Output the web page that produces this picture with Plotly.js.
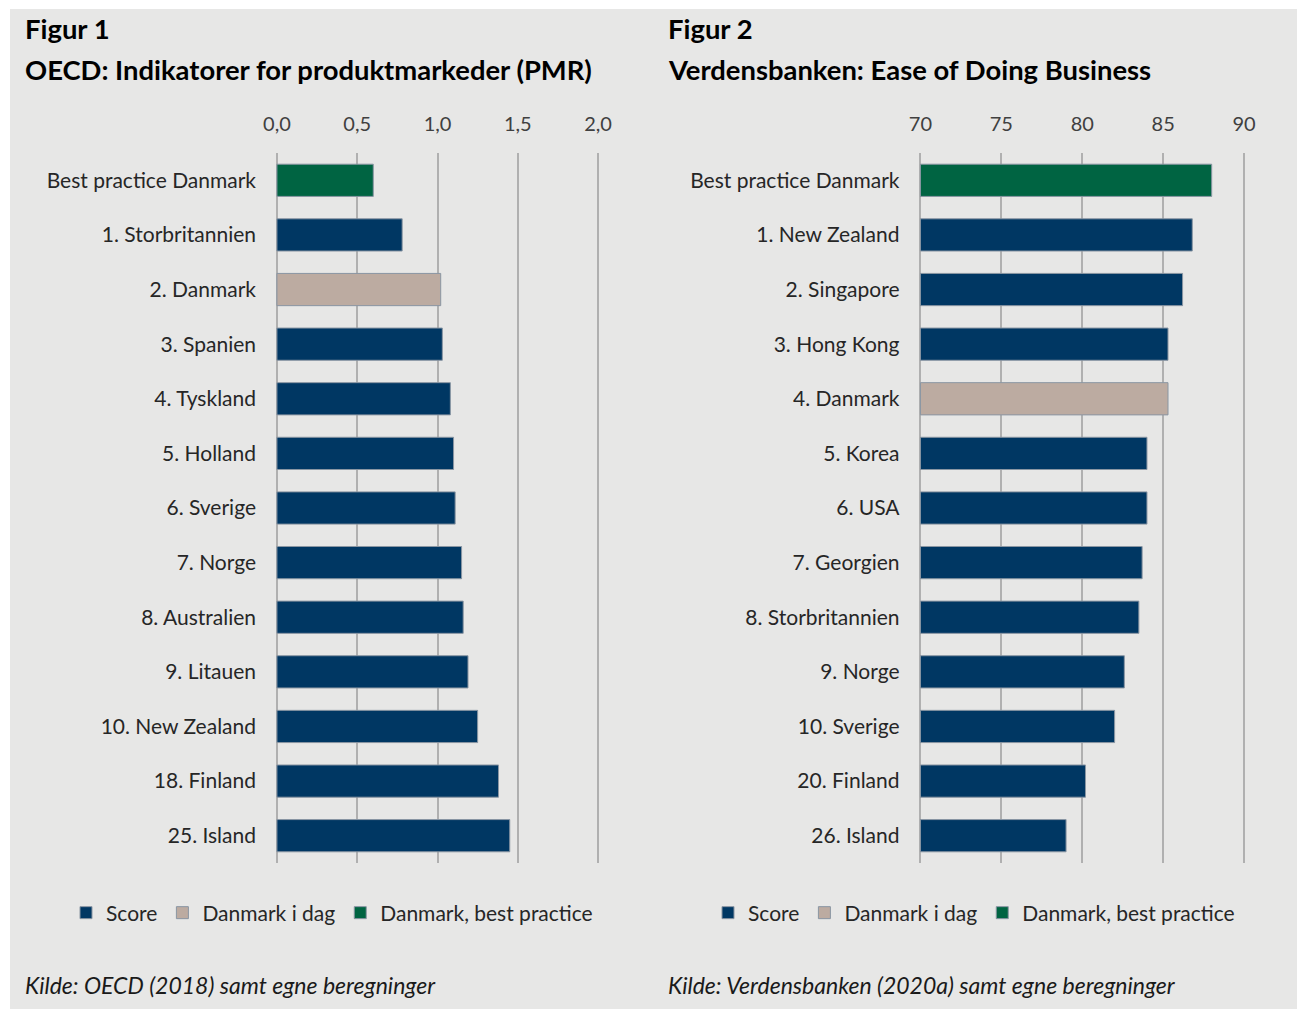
<!DOCTYPE html>
<html>
<head>
<meta charset="utf-8">
<script src="https://cdn.plot.ly/plotly-3.0.1.min.js"></script>
<style>
  body { margin: 0; background: #ffffff; }
  #chart { width: 1300px; height: 1010px; }
</style>
</head>
<body>
<div id="chart"></div>
<script>
// Figur 1: OECD PMR
const pmrLabels = ['Best practice Danmark', '1. Storbritannien', '2. Danmark', '3. Spanien', '4. Tyskland',
  '5. Holland', '6. Sverige', '7. Norge', '8. Australien', '9. Litauen', '10. New Zealand',
  '18. Finland', '25. Island'];
const pmrValues = [0.60, 0.78, 1.02, 1.03, 1.08, 1.10, 1.11, 1.15, 1.16, 1.19, 1.25, 1.38, 1.45];
const pmrGroups = ['best', 'score', 'today', 'score', 'score', 'score', 'score', 'score', 'score',
  'score', 'score', 'score', 'score'];

// Figur 2: Ease of Doing Business
const dbLabels = ['Best practice Danmark', '1. New Zealand', '2. Singapore', '3. Hong Kong', '4. Danmark',
  '5. Korea', '6. USA', '7. Georgien', '8. Storbritannien', '9. Norge', '10. Sverige',
  '20. Finland', '26. Island'];
const dbValues = [88.0, 86.8, 86.2, 85.3, 85.3, 84.0, 84.0, 83.7, 83.5, 82.6, 82.0, 80.2, 79.0];
const dbGroups = ['best', 'score', 'score', 'score', 'today', 'score', 'score', 'score', 'score',
  'score', 'score', 'score', 'score'];

const pmrTicks = [0, 0.5, 1.0, 1.5, 2.0];
const dbTicks = [70, 75, 80, 85, 90];

const groupNames = { score: 'Score', today: 'Danmark i dag', best: 'Danmark, best practice' };
const groupColors = { score: '#003763', today: '#bcaba1', best: '#006442' };
const groupOrder = ['score', 'today', 'best'];

const W = 1300, H = 1010;
const px = x => x / W;
const py = y => 1 - y / H;
const FONT = 'Lato, "Open Sans", sans-serif';

function makeTraces(labels, values, groups, xa, ya, legendId, base) {
  return groupOrder.map(g => {
    const idx = groups.map((v, i) => v === g ? i : -1).filter(i => i >= 0);
    return {
      type: 'bar',
      orientation: 'h',
      name: groupNames[g],
      x: idx.map(i => values[i] - base),
      y: idx.map(i => labels[i]),
      base: base,
      xaxis: xa,
      yaxis: ya,
      legend: legendId,
      width: 0.59,
      marker: { color: groupColors[g], line: { color: '#8a96a3', width: 1 } },
      hoverinfo: 'skip'
    };
  });
}

const traces = [
  ...makeTraces(pmrLabels, pmrValues, pmrGroups, 'x', 'y', 'legend', 0),
  ...makeTraces(dbLabels, dbValues, dbGroups, 'x2', 'y2', 'legend2', 70)
];

const xCommon = {
  side: 'top',
  showgrid: true,
  gridcolor: '#b0b0b0',
  gridwidth: 2,
  zeroline: false,
  showline: false,
  ticks: '',
  ticklabelstandoff: 17,
  tickfont: { family: FONT, size: 20, color: '#404040' },
  fixedrange: true
};
const yCommon = {
  type: 'category',
  autorange: false,
  range: [12.5, -0.5],
  showgrid: false,
  zeroline: false,
  showline: false,
  ticks: '',
  ticklabelstandoff: 18,
  tickfont: { family: FONT, size: 21, color: '#262626' },
  domain: [py(863), py(153)],
  fixedrange: true
};

const legendCommon = {
  orientation: 'h',
  xanchor: 'left',
  yanchor: 'middle',
  y: py(913),
  bgcolor: 'rgba(0,0,0,0)',
  font: { family: FONT, size: 21, color: '#262626' },
  traceorder: 'normal',
  itemclick: false,
  itemdoubleclick: false
};

const titleFont = { family: FONT, size: 27.4, color: '#000000', weight: 'bold' };
const noteFont = { family: FONT, size: 23, color: '#1a1a1a', style: 'italic' };

function textNote(x, y, text, font) {
  return { xref: 'paper', yref: 'paper', x: px(x), y: py(y), xanchor: 'left', yanchor: 'middle',
    text: text, showarrow: false, font: font };
}

// small padding so the edge gridlines (0 / 2,0 and 70 / 90) are drawn
const padL = 0.012, padR = 0.12;

const layout = {
  width: W,
  height: H,
  margin: { l: 0, r: 0, t: 0, b: 0 },
  paper_bgcolor: '#ffffff',
  plot_bgcolor: 'rgba(0,0,0,0)',
  barmode: 'overlay',
  separators: ',.',
  showlegend: true,
  xaxis: Object.assign({}, xCommon, {
    domain: [px(275), px(600)], range: [-padL, 2.0 + padL], tickvals: pmrTicks,
    ticktext: pmrTicks.map(v => v.toFixed(1).replace('.', ',')), anchor: 'y'
  }),
  yaxis: Object.assign({}, yCommon, { anchor: 'x', categoryarray: pmrLabels, categoryorder: 'array' }),
  xaxis2: Object.assign({}, xCommon, {
    domain: [px(918.5), px(1246)], range: [70 - padR, 90 + padR], tickvals: dbTicks,
    ticktext: dbTicks.map(String), anchor: 'y2'
  }),
  yaxis2: Object.assign({}, yCommon, { anchor: 'x2', categoryarray: dbLabels, categoryorder: 'array' }),
  legend: Object.assign({}, legendCommon, { x: px(66) }),
  legend2: Object.assign({}, legendCommon, { x: px(708) }),
  shapes: [
    { type: 'rect', xref: 'paper', yref: 'paper', x0: px(10), x1: px(1297), y0: py(1009), y1: py(9),
      fillcolor: '#e7e7e6', line: { width: 0 }, layer: 'below' }
  ],
  annotations: [
    textNote(23, 28, 'Figur 1', titleFont),
    textNote(23, 69, 'OECD: Indikatorer for produktmarkeder (PMR)', titleFont),
    textNote(666, 28, 'Figur 2', titleFont),
    textNote(666, 69, 'Verdensbanken: Ease of Doing Business', titleFont),
    textNote(23, 985, 'Kilde: OECD (2018) samt egne beregninger', noteFont),
    textNote(666, 985, 'Kilde: Verdensbanken (2020a) samt egne beregninger', noteFont)
  ]
};

Plotly.newPlot('chart', traces, layout, { staticPlot: true });
</script>
</body>
</html>
